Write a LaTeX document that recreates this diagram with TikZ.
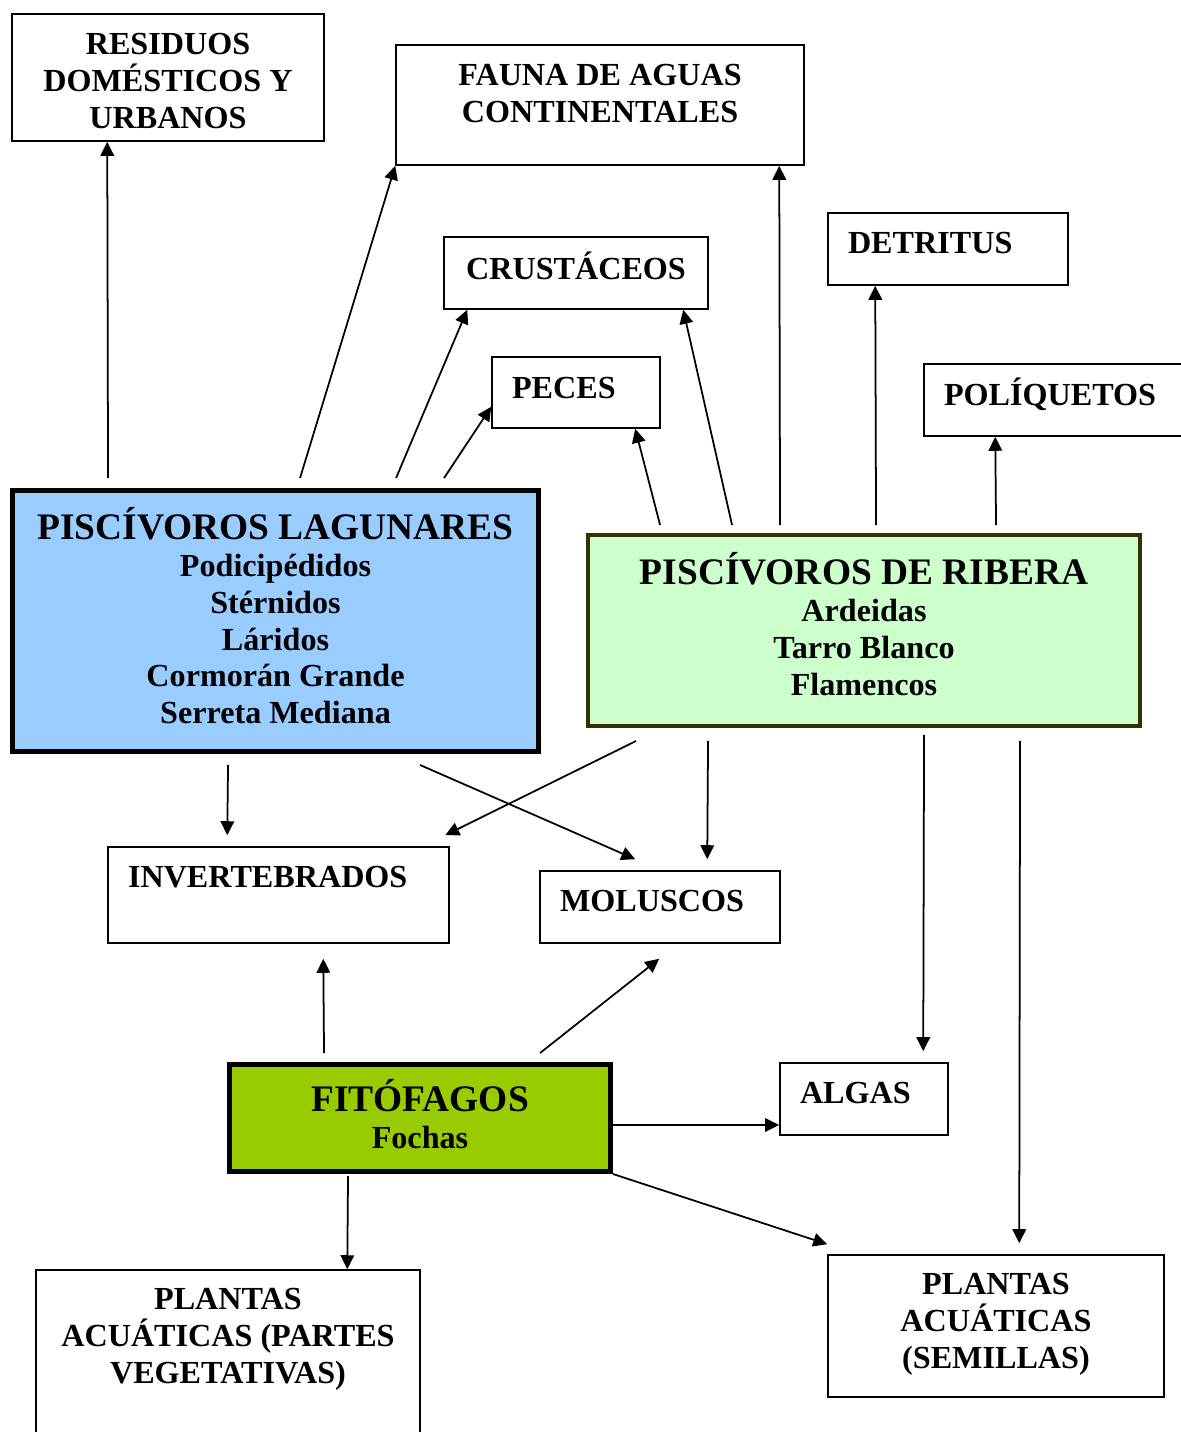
\documentclass[tikz,border=0pt]{standalone}
\usepackage{fontspec}
\setmainfont{Liberation Serif}
\usetikzlibrary{arrows.meta,calc}

\definecolor{lagblue}{HTML}{99CCFF}
\definecolor{ribgreen}{HTML}{CCFFCC}
\definecolor{ribline}{HTML}{333300}
\definecolor{fitgreen}{HTML}{99CC00}

\newcommand{\bigttl}{\fontsize{21.3}{23}\selectfont}
\newcommand{\dropby}[1]{\rule[-#1]{0pt}{#1}}

\tikzset{
  box/.style={draw, line width=0.9pt, inner sep=0pt, align=center,
    font=\bfseries\fontsize{18.3}{21}\selectfont},
  lbox/.style={box, align=left, inner xsep=0.4cm},
  arr/.style={-{Triangle[length=0.28cm,width=0.27cm]}, line width=1pt}
}

\begin{document}
\begin{tikzpicture}[x=0.02cm, y=-0.02cm]
\useasboundingbox (0,0) rectangle (1180,1432);
% upper boxes
\node[box, minimum width=6.24cm, minimum height=2.54cm] (res) at (168,77.5) {\rule{0pt}{16pt}RESIDUOS\\DOMÉSTICOS Y\\URBANOS};
\node[box, minimum width=8.16cm, minimum height=2.4cm] (fauna) at (600,105) {FAUNA DE AGUAS\\CONTINENTALES\dropby{0.48cm}};
\node[box, minimum width=5.28cm, minimum height=1.44cm] (crus) at (576,273) {CRUSTÁCEOS\dropby{0.3cm}};
\node[lbox, text width=2.56cm, minimum height=1.42cm] (peces) at (576,392.5) {PECES\dropby{0.18cm}};
\node[lbox, text width=4.0cm, minimum height=1.44cm] (detr) at (948,249) {DETRITUS\dropby{0.24cm}};
\node[lbox, text width=4.6cm, minimum height=1.44cm] (poli) at (1059,400) {POLÍQUETOS\dropby{0.32cm}};
% predators
\node[box, line width=0.1cm, fill=lagblue, minimum width=10.52cm, minimum height=5.22cm] (lag) at (275.5,621)
  {{\bigttl PISCÍVOROS LAGUNARES}\\Podicipédidos\\Stérnidos\\Láridos\\Cormorán Grande\\Serreta Mediana\dropby{0.22cm}};
\node[box, line width=0.08cm, draw=ribline, fill=ribgreen, minimum width=11.04cm, minimum height=3.82cm] (rib) at (864,630.5)
  {{\bigttl PISCÍVOROS DE RIBERA}\\Ardeidas\\Tarro Blanco\\Flamencos\dropby{0.26cm}};
% middle and lower boxes
\node[lbox, text width=6.02cm, minimum height=1.92cm] (inv) at (278.5,895) {INVERTEBRADOS\dropby{0.72cm}};
\node[lbox, text width=4.0cm, minimum height=1.44cm] (mol) at (660,907) {MOLUSCOS\dropby{0.24cm}};
\node[box, line width=0.1cm, fill=fitgreen, minimum width=7.62cm, minimum height=2.14cm] (fit) at (420,1118)
  {{\bigttl FITÓFAGOS}\\Fochas\dropby{0.16cm}};
\node[lbox, text width=2.56cm, minimum height=1.44cm] (algas) at (864,1099) {ALGAS\dropby{0.24cm}};
\node[box, minimum width=7.68cm, minimum height=3.4cm] (pv) at (228,1355) {PLANTAS\\ACUÁTICAS (PARTES\\VEGETATIVAS)\dropby{0.76cm}};
\node[box, minimum width=6.72cm, minimum height=2.84cm] (sem) at (996,1326) {PLANTAS\\ACUÁTICAS\\(SEMILLAS)\dropby{0.2cm}};

% arrows from the lagoon fish-eaters
\draw[arr] ($(lag.north west)+(98,-10)$) -- ($(res.south west)+(96,0)$);
\draw[arr] ($(lag.north west)+(290,-10)$) -- (fauna.south west);
\draw[arr] ($(lag.north west)+(386,-10)$) -- ($(crus.south west)+(24,0)$);
\draw[arr] ($(lag.north west)+(434,-10)$) -- ($(peces.south west)+(0,-22)$);
\draw[arr] ($(lag.south west)+(218,11)$) -- ($(inv.north west)+(120,-11)$);
\draw[arr] ($(lag.south west)+(410,11)$) -- ($(mol.north west)+(96,-11)$);
% arrows from the shore fish-eaters
\draw[arr] ($(rib.north west)+(74,-8)$) -- ($(peces.south west)+(144,0)$);
\draw[arr] ($(rib.north west)+(146,-8)$) -- ($(crus.south west)+(240,0)$);
\draw[arr] ($(rib.north west)+(194,-8)$) -- ($(fauna.south west)+(384,0)$);
\draw[arr] ($(rib.north west)+(290,-8)$) -- ($(detr.south west)+(48,0)$);
\draw[arr] ($(rib.north west)+(410,-8)$) -- ($(poli.south west)+(72,0)$);
\draw[arr] ($(rib.south west)+(50,13)$) -- ($(inv.north west)+(338,-11)$);
\draw[arr] ($(rib.south west)+(122,13)$) -- ($(mol.north west)+(168,-11)$);
\draw[arr] ($(rib.south west)+(338,7)$) -- ($(algas.north west)+(144,-11)$);
\draw[arr] ($(rib.south west)+(434,13)$) -- ($(sem.north west)+(192,-11)$);
% arrows from the plant-eaters
\draw[arr] ($(fit.north west)+(97,-9)$) -- ($(inv.south west)+(216,15)$);
\draw[arr] ($(fit.north west)+(313,-9)$) -- ($(mol.south west)+(120,15)$);
\draw[arr] ($(fit.east)+(0,7)$) -- ($(algas.west)+(0,26)$);
\draw[arr] ($(fit.south west)+(121,2)$) -- ($(pv.north west)+(312,0)$);
\draw[arr] (fit.south east) -- ($(sem.north west)+(0,-10)$);
\end{tikzpicture}
\end{document}
